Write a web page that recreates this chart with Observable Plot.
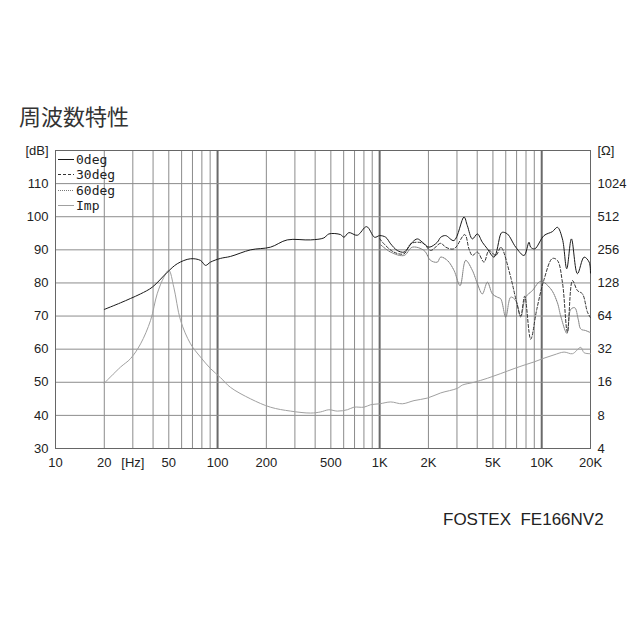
<!DOCTYPE html>
<html><head><meta charset="utf-8">
<script src="https://cdn.jsdelivr.net/npm/d3@7"></script>
<script src="https://cdn.jsdelivr.net/npm/@observablehq/plot@0.6"></script>
<style>
body{margin:0;background:#fff;}
#wrap{position:relative;width:640px;height:640px;background:#fff;overflow:hidden;}
#chart{position:absolute;left:0;top:0;}
#title{position:absolute;left:19px;top:104px;font-size:22px;line-height:1;font-family:"Noto Sans CJK JP";color:#333;}
#legend{position:absolute;left:58px;top:152px;font-size:13px;font-family:"DejaVu Sans Mono";color:#222;}
#legend .row{height:15.3px;line-height:15.3px;display:flex;align-items:center;}
#legend svg{margin-right:2px;}
#caption{position:absolute;left:443px;top:511px;font-size:17px;line-height:1;font-family:"Liberation Sans";color:#222;white-space:pre;}
</style></head>
<body><div id="wrap"><div id="chart"></div><div id="title">周波数特性</div><div id="legend"></div><div id="caption">FOSTEX  FE166NV2</div></div>
<script>
// ---- data (frequency in Hz, SPL in dB, impedance in ohm) ----
const f0 = [20,25.2,29,33.5,39.5,48.9,56.4,68,78.5,84.3,90.5,104,120,160,212,269,375,453,486,574,602,646,728,831,931,1000,1090,1170,1285,1413,1483,1592,1709,1835,2015,2270,2381,2555,2876,3315,3476,3733,4010,4301,4624,5080,5585,5718,6140,6916,7780,8350,8550,9060,10330,11640,12500,13420,14270,15250,16610,18260,19620,20000];
const db0 = [72,74,75.3,76.7,78.7,83.2,85.8,87.3,86.8,85.3,86.3,87.4,88,90,90.8,93,93,93.6,94.8,94.6,93.8,95.2,94.4,97,93.8,94.3,93.8,91.8,89.8,89.3,90.3,92.3,93.3,92.3,90.8,92.3,93.8,94.3,92.8,99.9,97.3,93.3,94.8,92.3,90.3,87.8,94.8,95.3,94.8,90.8,88.3,92.3,90.8,90.3,94.3,95.5,96.8,93.3,84.3,93.3,82.8,87.8,86.3,83];

const f30 = [1000,1059,1226,1413,1553,1709,1879,2064,2381,2555,2876,3350,3557,3733,4010,4406,4730,5204,5585,5718,6440,7015,7420,7850,8550,9320,10330,11640,12500,13420,14410,15480,16610,17840,19150,20000];
const db30 = [93.4,91.9,89.3,88.8,91.8,92.3,91.8,89.8,92,90.8,90.3,94.6,90.3,88.3,89.3,86.3,89.8,88.3,90.8,90.3,81.7,74,70,76,63,72,81,87.4,86.8,80.2,65.1,80.7,77.7,76.7,71.2,69.5];

const f60 = [1000,1170,1413,1592,1879,2064,2270,2381,2617,2876,3135,3396,3733,4010,4301,4624,4964,5330,5585,5997,6440,6916,7420,7960,8760,9860,11370,12500,13100,14300,15100,16000,16800,17420,18710,20000];
const db60 = [91.8,89.3,88.3,90.8,89.8,86.8,86.3,87.8,86.8,83.8,79.2,86.8,83.8,79.8,76.7,80.2,76.7,75.7,75.2,69.7,75.7,74.7,69.7,75.7,77.7,80.5,78.2,74,70,64.8,72,72.5,69,66.1,65.6,65];

const fImp = [20,25.2,29,33.5,38.6,42.4,46.6,50,53.7,59.1,68.1,78.5,90.5,104,120,160,212,282,375,432,486,548,632,694,800,880,1000,1170,1380,1629,1972,2381,3017,3243,3821,4624,5585,6750,7780,8970,10330,11910,13740,15480,17420,18260,20000];
const ohmImp = [15.7,22,26.2,35.8,58.5,102,144,167,117,58.5,35.8,27.1,21.3,17.7,14.4,11.3,9.5,8.75,8.4,8.6,9,8.75,9,9.5,9.5,10,10.2,10.6,10.2,10.9,11.5,12.8,14.1,15.1,16,17.4,19.2,21.3,22.9,24.5,26.5,28.4,30.1,29.1,33.2,29.7,29.1];

// ticks
const xTickValues = [10,20,30,50,100,200,500,1000,2000,5000,10000,20000];
const xTickLabels = ["10","20","[Hz]","50","100","200","500","1K","2K","5K","10K","20K"];
const dbTicks = [30,40,50,60,70,80,90,100,110,120];
const dbTickLabels = ["30","40","50","60","70","80","90","100","110","[dB]"];
const ohmTickLabels = ["4","8","16","32","64","128","256","512","1024","[Ω]"];
const minorGrid = [20,30,40,50,60,70,80,90,200,300,400,500,600,700,800,900,2000,3000,4000,5000,6000,7000,8000,9000];
const majorGrid = [100,1000,10000];

const series = [
  {name:"0deg", f:f0, v:db0, stroke:"#1a1a1a", dash:null, width:1},
  {name:"30deg", f:f30, v:db30, stroke:"#333", dash:"3,2", width:1},
  {name:"60deg", f:f60, v:db60, stroke:"#777", dash:"1,1", width:1},
];
const ohmToDb = o => 30 + 10*Math.log2(o/4);
const impRows = fImp.map((f,i)=>({f, y: ohmToDb(ohmImp[i])}));

const lineMarks = series.slice().reverse().map(s =>
  Plot.line(s.f.map((f,i)=>({f, y:s.v[i]})), {x:"f", y:"y", stroke:s.stroke, strokeWidth:s.width, strokeDasharray:s.dash, curve:"catmull-rom"})
);

const xLabelRows = xTickValues.map((v,i)=>({v, label:xTickLabels[i]}));

const chart = Plot.plot({
  width:640, height:640,
  marginLeft:55, marginRight:50, marginTop:150, marginBottom:192,
  x:{type:"log", domain:[10,20000], axis:null},
  y:{domain:[30,120], axis:null},
  style:{fontFamily:"Liberation Sans", fontSize:"13px", color:"#222", background:"white", overflow:"visible"},
  marks:[
    Plot.ruleX(minorGrid, {stroke:"#8c8c8c", strokeWidth:1}),
    Plot.ruleX(majorGrid, {stroke:"#6a6a6a", strokeWidth:2}),
    Plot.ruleY(dbTicks, {stroke:"#8c8c8c", strokeWidth:1}),
    Plot.frame({stroke:"#666"}),
    Plot.line(impRows, {x:"f", y:"y", stroke:"#a0a0a0", strokeWidth:1, curve:"catmull-rom"}),
    ...lineMarks,
    Plot.text(xLabelRows, {x:"v", text:"label", frameAnchor:"bottom", lineAnchor:"top", dy:9, fill:"#222", fontSize:13}),
    Plot.axisY(dbTicks, {anchor:"left", tickSize:0, tickPadding:7, label:null, tickFormat:d=>dbTickLabels[dbTicks.indexOf(d)]}),
    Plot.axisY(dbTicks, {anchor:"right", tickSize:0, tickPadding:7, label:null, tickFormat:d=>ohmTickLabels[dbTicks.indexOf(d)]})
  ]
});
document.getElementById("chart").appendChild(chart);

// legend
const legendItems = [
  {name:"0deg", stroke:"#1a1a1a", dash:""},
  {name:"30deg", stroke:"#333", dash:"3,2"},
  {name:"60deg", stroke:"#777", dash:"1,1"},
  {name:"Imp", stroke:"#a0a0a0", dash:""},
];
const leg = document.getElementById("legend");
for (const it of legendItems) {
  const row = document.createElement("div");
  row.className = "row";
  row.innerHTML = `<svg width="16" height="15"><line x1="0" x2="16" y1="7.5" y2="7.5" stroke="${it.stroke}" stroke-width="1" ${it.dash?`stroke-dasharray="${it.dash}"`:""}/></svg><span>${it.name}</span>`;
  leg.appendChild(row);
}
</script>
</body></html>
